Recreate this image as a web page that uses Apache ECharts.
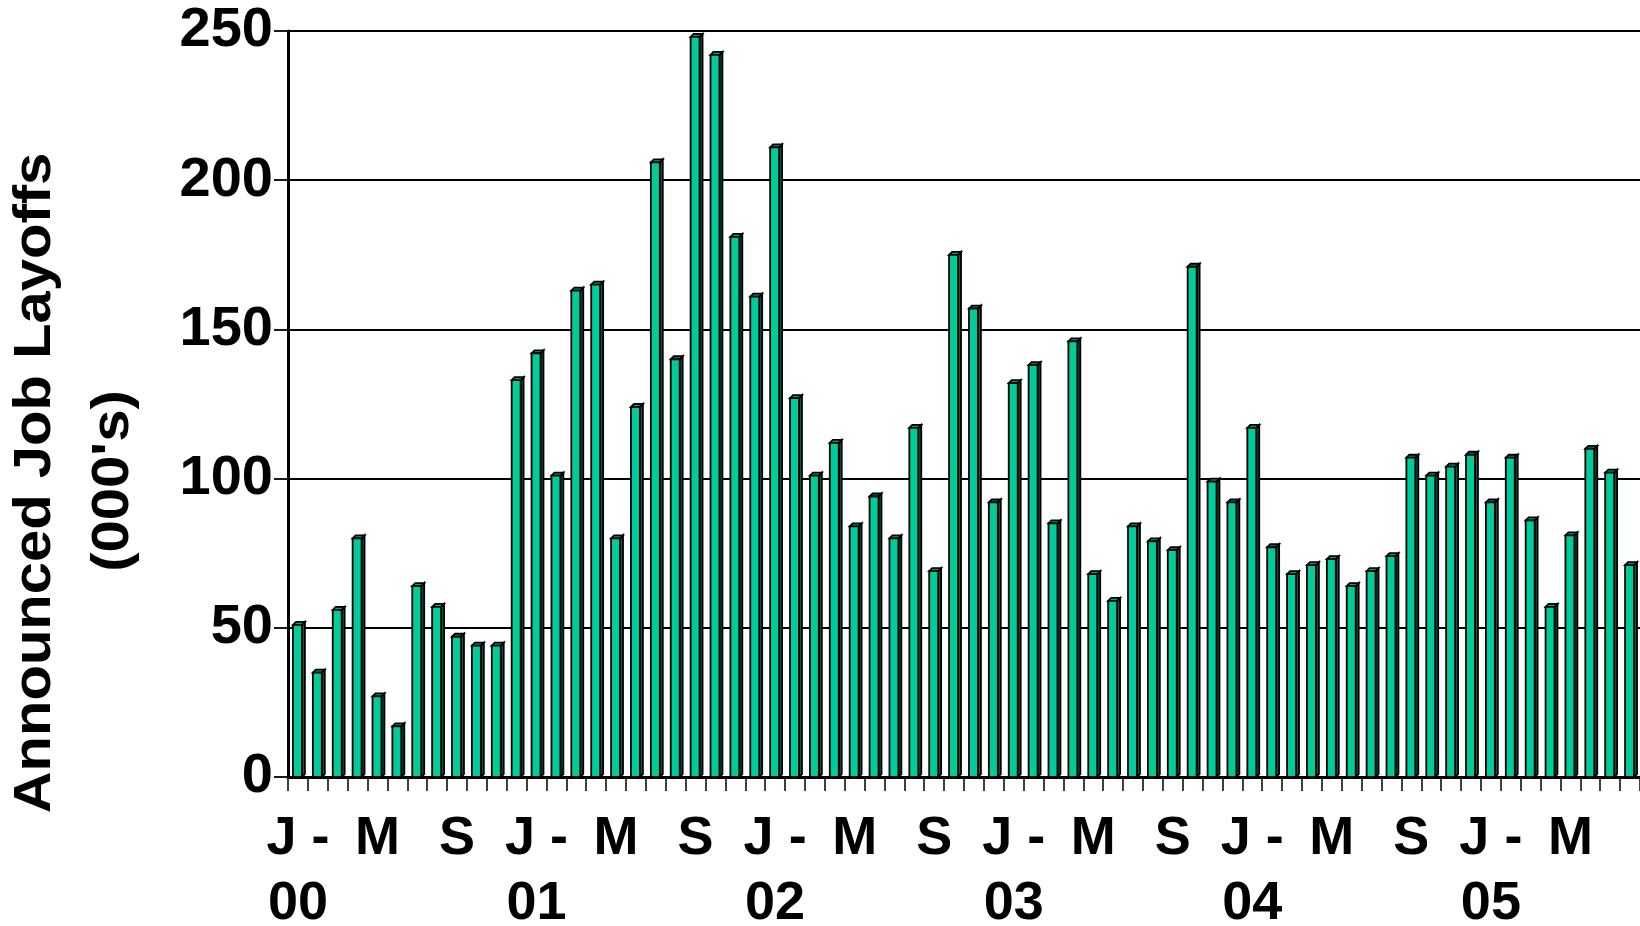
<!DOCTYPE html>
<html>
<head>
<meta charset="utf-8">
<script src="https://cdn.jsdelivr.net/npm/echarts@6/dist/echarts.min.js"></script>
<style>
  html, body { margin: 0; padding: 0; background: #ffffff; }
  #chart { width: 1640px; height: 926px; }
</style>
</head>
<body>
<div id="chart"></div>
<script>
// Monthly announced job layoffs, thousands
const years = ['00', '01', '02', '03', '04', '05'];
const monthInitials = ['J', 'F', 'M', 'A', 'M', 'J', 'J', 'A', 'S', 'O', 'N', 'D'];
const labelledMonths = { 0: 'J -', 4: 'M', 8: 'S' };

const layoffs2000 = [51, 35, 56, 80, 27, 17, 64, 57, 47, 44, 44, 133];
const layoffs2001 = [142, 101, 163, 165, 80, 124, 206, 140, 248, 242, 181, 161];
const layoffs2002 = [211, 127, 101, 112, 84, 94, 80, 117, 69, 175, 157, 92];
const layoffs2003 = [132, 138, 85, 146, 68, 59, 84, 79, 76, 171, 99, 92];
const layoffs2004 = [117, 77, 68, 71, 73, 64, 69, 74, 107, 101, 104, 108];
const layoffs2005 = [92, 107, 86, 57, 81, 110, 102, 71];

const yTicks = { min: 0, max: 250, interval: 50 };
const axisTitle = ['Announced Job Layoffs', "(000's)"];

const byYear = [layoffs2000, layoffs2001, layoffs2002, layoffs2003, layoffs2004, layoffs2005];
const categories = [];
const values = [];
byYear.forEach((arr, yi) => {
  arr.forEach((v, mi) => {
    categories.push(monthInitials[mi] + '-' + years[yi]);
    values.push(v);
  });
});

const FONT = '"Liberation Sans", Arial, Helvetica, sans-serif';

// Column with a shallow bevelled top and a dark right side
function renderColumn(params, api) {
  const idx = api.value(0);
  const base = api.coord([idx, 0]);
  const top = api.coord([idx, api.value(1)]);
  const band = api.size([1, 0])[0];
  const x0 = base[0] - band * 0.25;
  const w = band * 0.45;
  const d = band * 0.15;
  const yb = base[1];
  const yt = top[1];
  const edge = { stroke: '#000000', lineWidth: 1.8, lineJoin: 'miter' };
  return {
    type: 'group',
    children: [
      {
        type: 'polygon',
        shape: { points: [[x0 + w, yt], [x0 + w + d, yt - d], [x0 + w + d, yb - d], [x0 + w, yb]] },
        style: Object.assign({ fill: '#005e46' }, edge)
      },
      {
        type: 'polygon',
        shape: { points: [[x0, yt], [x0 + d, yt - d], [x0 + w + d, yt - d], [x0 + w, yt]] },
        style: Object.assign({ fill: '#00a37a' }, edge)
      },
      {
        type: 'rect',
        shape: { x: x0, y: yt, width: w, height: yb - yt },
        style: Object.assign({ fill: '#00cc99' }, edge)
      }
    ]
  };
}

const chart = echarts.init(document.getElementById('chart'), null, { renderer: 'canvas' });

chart.setOption({
  backgroundColor: '#ffffff',
  animation: false,
  grid: {
    left: 288, right: 0, top: 31, bottom: 149,
    containLabel: false, outerBoundsMode: 'none'
  },
  xAxis: {
    type: 'category',
    data: categories,
    boundaryGap: true,
    axisLine: { show: true, lineStyle: { color: '#000', width: 3 } },
    axisTick: { show: true, interval: 0, length: 14, lineStyle: { color: '#000', width: 1.5 } },
    axisLabel: {
      interval: 0,
      margin: 30,
      color: '#000',
      fontFamily: FONT,
      fontWeight: 'bold',
      fontSize: 54,
      lineHeight: 65,
      formatter: function (value, index) {
        const m = index % 12;
        const y = Math.floor(index / 12);
        if (m === 0) return labelledMonths[0] + '\n' + years[y];
        return labelledMonths[m] || '';
      }
    },
    splitLine: { show: false }
  },
  yAxis: {
    type: 'value',
    min: yTicks.min,
    max: yTicks.max,
    interval: yTicks.interval,
    axisLine: { show: true, lineStyle: { color: '#000', width: 3 } },
    axisTick: { show: true, length: 14, lineStyle: { color: '#000', width: 1.8 } },
    axisLabel: {
      margin: 15,
      color: '#000',
      fontFamily: FONT,
      fontWeight: 'bold',
      fontSize: 56
    },
    splitLine: { show: true, lineStyle: { color: '#000', width: 1.8 } }
  },
  graphic: [
    {
      type: 'text',
      x: 36, y: 483,
      rotation: Math.PI / 2,
      scaleY: 0.9,
      style: {
        text: axisTitle[0],
        font: 'bold 58px ' + FONT,
        fill: '#000',
        align: 'center', verticalAlign: 'middle',
        textAlign: 'center', textVerticalAlign: 'middle'
      }
    },
    {
      type: 'text',
      x: 114, y: 481,
      rotation: Math.PI / 2,
      scaleY: 0.9,
      style: {
        text: axisTitle[1],
        font: 'bold 58px ' + FONT,
        fill: '#000',
        align: 'center', verticalAlign: 'middle',
        textAlign: 'center', textVerticalAlign: 'middle'
      }
    }
  ],
  series: [
    {
      type: 'custom',
      name: 'Announced Job Layoffs',
      renderItem: renderColumn,
      encode: { x: 0, y: 1 },
      data: values.map((v, i) => [i, v]),
      clip: false,
      z: 3
    }
  ]
});
</script>
</body>
</html>
